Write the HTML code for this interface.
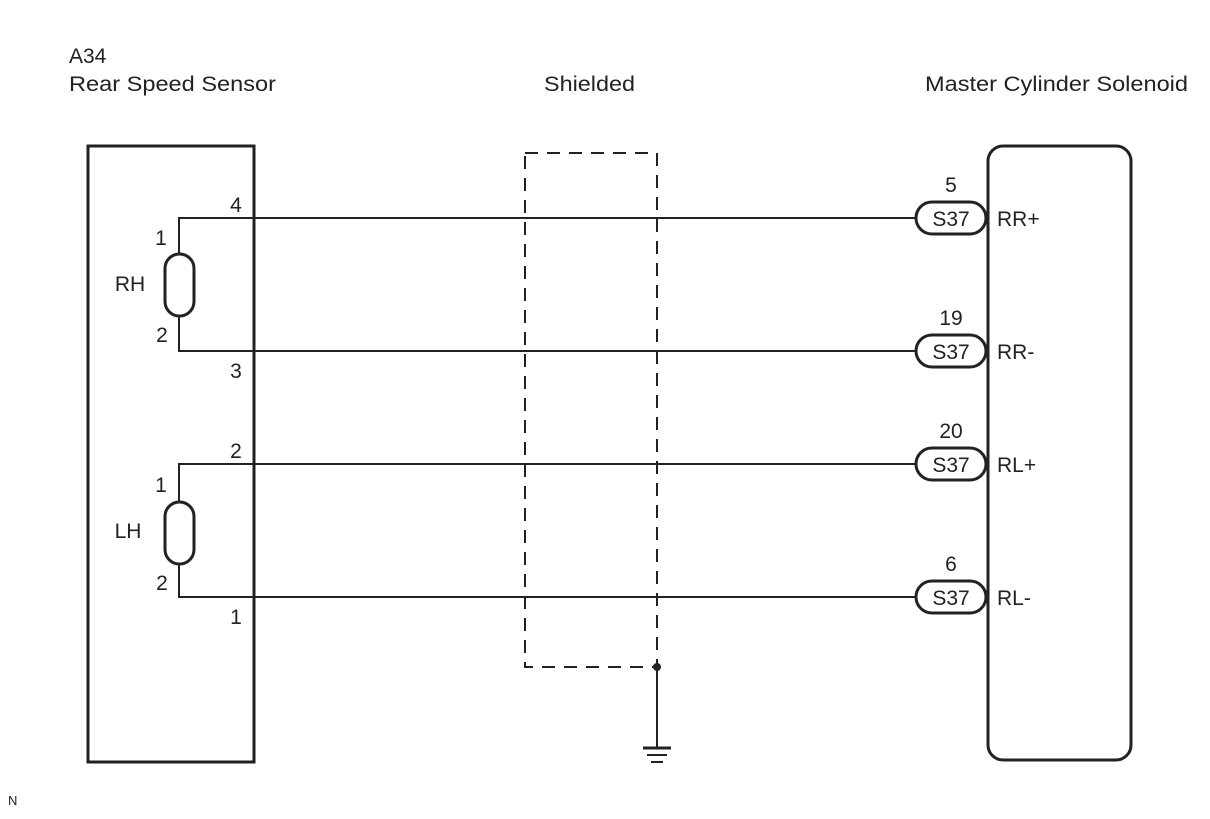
<!DOCTYPE html>
<html><head><style>body{margin:0;background:#fff}</style></head><body>
<svg width="1210" height="814" xmlns="http://www.w3.org/2000/svg" font-family="Liberation Sans, Arial, sans-serif" font-size="21" fill="#222">
<rect width="1210" height="814" fill="#fff"/>
<text x="69" y="63">A34</text>
<text x="69" y="91" textLength="207" lengthAdjust="spacingAndGlyphs">Rear Speed Sensor</text>
<text x="544" y="91" textLength="91" lengthAdjust="spacingAndGlyphs">Shielded</text>
<text x="925" y="91" textLength="263" lengthAdjust="spacingAndGlyphs">Master Cylinder Solenoid</text>
<text x="8" y="805" font-size="13">N</text>
<g stroke="#222" fill="none">
<rect x="88" y="146" width="166" height="616" stroke-width="3"/>
<rect x="988" y="146" width="143" height="614" rx="15" stroke-width="3"/>
<rect x="525" y="153" width="132" height="514" stroke-width="2" stroke-dasharray="13,9"/>
<g stroke-width="2">
<polyline points="179,254 179,218 916,218"/>
<polyline points="179,316 179,351 916,351"/>
<polyline points="179,502 179,464 916,464"/>
<polyline points="179,564 179,597 916,597"/>
<line x1="657" y1="667" x2="657" y2="748"/>
</g>
<rect x="165" y="254" width="29" height="62" rx="14.5" stroke-width="3"/>
<rect x="165" y="502" width="29" height="62" rx="14.5" stroke-width="3"/>
<g stroke-width="3">
<rect x="916" y="202" width="70" height="32" rx="16"/>
<rect x="916" y="335" width="70" height="32" rx="16"/>
<rect x="916" y="448" width="70" height="32" rx="16"/>
<rect x="916" y="581" width="70" height="32" rx="16"/>
</g>
<line x1="643" y1="748" x2="671" y2="748" stroke-width="3"/>
<line x1="647" y1="755" x2="667" y2="755" stroke-width="2"/>
<line x1="651" y1="762" x2="663" y2="762" stroke-width="2"/>
</g>
<circle cx="657" cy="667" r="4" fill="#222"/>
<g text-anchor="middle">
<text x="236" y="212">4</text><text x="161" y="245">1</text><text x="162" y="342">2</text><text x="236" y="378">3</text>
<text x="130" y="291">RH</text>
<text x="236" y="458">2</text><text x="161" y="492">1</text><text x="162" y="590">2</text><text x="236" y="624">1</text>
<text x="128" y="538">LH</text>
<text x="951" y="192">5</text><text x="951" y="325">19</text><text x="951" y="438">20</text><text x="951" y="571">6</text>
<text x="951" y="226">S37</text><text x="951" y="359">S37</text><text x="951" y="472">S37</text><text x="951" y="605">S37</text>
</g>
<text x="997" y="226">RR+</text><text x="997" y="359">RR-</text><text x="997" y="472">RL+</text><text x="997" y="605">RL-</text>
</svg>
</body></html>
